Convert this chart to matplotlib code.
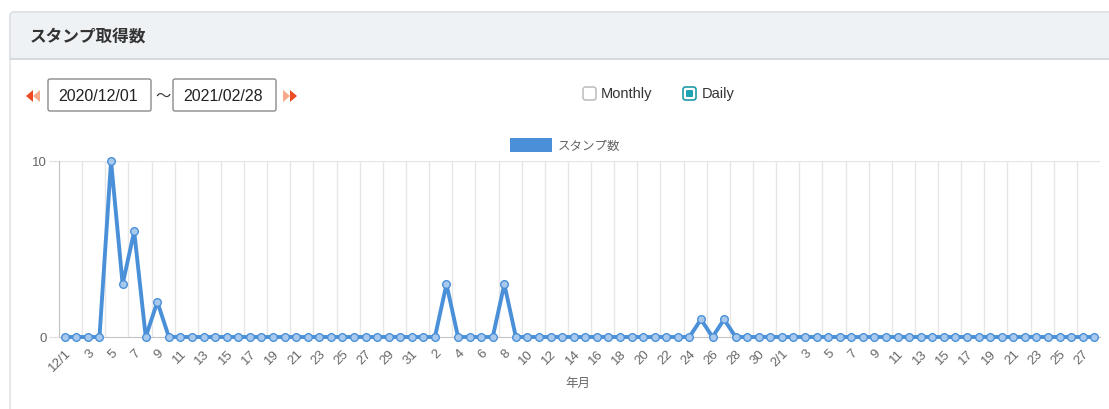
import matplotlib
matplotlib.use("Agg")
import matplotlib.pyplot as plt
from matplotlib.patches import Rectangle, FancyBboxPatch, Polygon
import pandas as pd

plt.rcParams['font.family'] = ['Noto Sans CJK JP', 'DejaVu Sans']

# data
dates = pd.date_range("2020-12-01", "2021-02-28", freq="D")
dec_counts = [0, 0, 0, 0, 10, 3, 6, 0, 2, 0, 0, 0, 0, 0, 0, 0, 0, 0, 0, 0,
              0, 0, 0, 0, 0, 0, 0, 0, 0, 0, 0]
jan_counts = [0, 0, 3, 0, 0, 0, 0, 3, 0, 0, 0, 0, 0, 0, 0, 0, 0, 0, 0, 0,
              0, 0, 0, 0, 1, 0, 1, 0, 0, 0, 0]
feb_counts = [0] * 28
counts = dec_counts + jan_counts + feb_counts
labels = [f"{d.month}/1" if d.day == 1 else str(d.day) for d in dates]

title = "スタンプ取得数"
start_text = "2020/12/01"
end_text = "2021/02/28"
series_name = "スタンプ数"
x_title = "年月"

W, H = 1109, 410
BLUE = "#4a90d9"
GREY_TXT = "#666666"

fig = plt.figure(figsize=(W / 100, H / 100), dpi=100)

# background layer in pixel coords
bg = fig.add_axes([0, 0, 1, 1])
bg.set_xlim(0, W)
bg.set_ylim(H, 0)
bg.axis("off")

panel = FancyBboxPatch((10, 13), W + 20, H + 20, boxstyle="round,pad=0,rounding_size=4",
                       facecolor="white", edgecolor="#dcdfe3", linewidth=1)
bg.add_patch(panel)
header = FancyBboxPatch((10, 13), W + 20, 47, boxstyle="round,pad=0,rounding_size=4",
                        facecolor="#eef2f5", edgecolor="#dcdfe3", linewidth=1)
bg.add_patch(header)
bg.plot([10, W], [60, 60], color="#d3d8dd", lw=1.2)
bg.text(30, 37, title, fontsize=12, fontweight="bold", color="#333333", va="center", ha="left")

# date range inputs
for (x0, txt) in [(48, start_text), (173, end_text)]:
    bg.add_patch(FancyBboxPatch((x0, 80), 103, 32, boxstyle="round,pad=0,rounding_size=2",
                                facecolor="white", edgecolor="#8a8a8a", linewidth=1))
    bg.text(x0 + 50, 96.5, txt, fontsize=11.5, family="Liberation Sans", color="#222222",
            ha="center", va="center")
bg.text(163, 96, "〜", fontsize=11, color="#333333", ha="center", va="center")

# prev / next arrows
bg.add_patch(Polygon([(26, 97), (33, 91), (33, 103)], closed=True, color="#ea4b22", lw=0))
bg.add_patch(Polygon([(33, 97), (40, 91), (40, 103)], closed=True, color="#f6a98a", lw=0))
bg.add_patch(Polygon([(283, 91), (290, 97), (283, 103)], closed=True, color="#f6a98a", lw=0))
bg.add_patch(Polygon([(290, 91), (297, 97), (290, 103)], closed=True, color="#ea4b22", lw=0))

# checkboxes
bg.add_patch(FancyBboxPatch((583, 88), 13, 13, boxstyle="round,pad=0,rounding_size=2.5",
                            facecolor="white", edgecolor="#b5b5b5", linewidth=1))
bg.text(601, 94, "Monthly", fontsize=10.5, family="Liberation Sans", color="#333333",
        ha="left", va="center")
bg.add_patch(FancyBboxPatch((683, 88), 13, 13, boxstyle="round,pad=0,rounding_size=2.5",
                            facecolor="white", edgecolor="#1e9aa8", linewidth=1.2))
bg.add_patch(FancyBboxPatch((686, 91), 7, 7, boxstyle="round,pad=0,rounding_size=1",
                            facecolor="#1ea3b2", edgecolor="none"))
bg.text(702, 94, "Daily", fontsize=10.5, family="Liberation Sans", color="#333333",
        ha="left", va="center")

# legend
bg.add_patch(Rectangle((510, 139), 42, 14, facecolor=BLUE, edgecolor="none"))
bg.text(558, 146, series_name, fontsize=9, color=GREY_TXT, ha="left", va="center")

# x axis title
bg.text(578, 383, x_title, fontsize=9, color=GREY_TXT, ha="center", va="center")

# chart
left, right, top, bottom = 59, 1100, 162, 338
ax = fig.add_axes([left / W, 1 - bottom / H, (right - left) / W, (bottom - top) / H])
ax.patch.set_alpha(0)
n = len(counts)
xs = list(range(n))
ax.set_xlim(-0.5, n - 0.5)
ax.set_ylim(0, 10)

ax.plot(xs, counts, color=BLUE, lw=2.8, marker="o", ms=5.5, mfc="#a9c9ec",
        mec=BLUE, mew=1, clip_on=False, solid_joinstyle="round", zorder=5)

for s in ["top", "right"]:
    ax.spines[s].set_visible(False)
ax.spines["left"].set_color("#c4c4c4")
ax.spines["bottom"].set_color("#c4c4c4")

ax.set_xticks(xs[::2])
ax.set_xticklabels(labels[::2], rotation=45, ha="right", va="top", rotation_mode="anchor",
                   fontsize=9.5, color=GREY_TXT, family="Liberation Sans")
ax.set_xticks([i - 0.5 for i in range(0, n, 2)], minor=True)
ax.tick_params(axis="x", which="both", length=0, pad=7)
ax.grid(which="minor", axis="x", color="#e6e6e6", lw=1)

ax.set_yticks([0, 10])
ax.set_yticklabels(["0", "10"], fontsize=9.5, color=GREY_TXT, family="Liberation Sans")
ax.tick_params(axis="y", length=7, color="#e0e0e0", pad=2)
ax.axhline(10, color="#e6e6e6", lw=1, zorder=0)

fig.savefig("out.png", dpi=100)
